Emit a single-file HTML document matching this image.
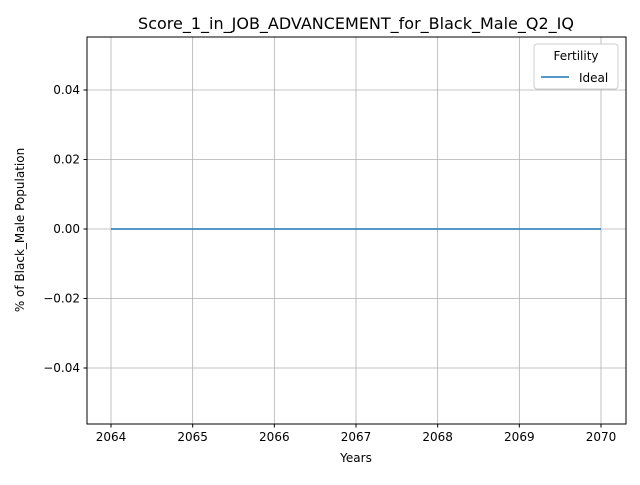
<!DOCTYPE html>
<html><head><meta charset="utf-8"><style>
body{margin:0;background:#fff;}
svg text{font-family:"DejaVu Sans","Liberation Sans",sans-serif;fill:#000;}
</style></head><body>
<svg id="chart" width="640" height="480" xmlns="http://www.w3.org/2000/svg">
<rect width="640" height="480" fill="#fff"/>
<text x="356" y="29" font-size="16" text-anchor="middle">Score_1_in_JOB_ADVANCEMENT_for_Black_Male_Q2_IQ</text>
<g id="grid"></g>
<g id="plot"></g>
<rect x="87" y="37" width="539" height="387" fill="none" stroke="#000" stroke-width="1"/>
<g id="ticks"></g>
<text x="356" y="462" font-size="12" text-anchor="middle">Years</text>
<text transform="translate(24,230) rotate(-90)" font-size="12" text-anchor="middle">% of Black_Male Population</text>
<g>
<rect x="534" y="44" width="84" height="45" rx="3" fill="#fff" stroke="#ccc"/>
<text x="576" y="60" font-size="12" text-anchor="middle">Fertility</text>
<line x1="541" y1="77" x2="569" y2="77" stroke="#1f77b4" stroke-width="1.5"/>
<text x="579" y="82" font-size="12">Ideal</text>
</g>
</svg>
<script>
const years=[2064,2065,2066,2067,2068,2069,2070];
const idealValues=[0,0,0,0,0,0,0];
const yTicks=[-0.04,-0.02,0,0.02,0.04];
const yTickLabels=["\u22120.04","\u22120.02","0.00","0.02","0.04"];
const NS="http://www.w3.org/2000/svg";
function xs(v){return 111+(v-2064)*(601-111)/6;}
function ys(v){return 229-v*(229-90)/0.04;}
const grid=document.getElementById('grid'),ticks=document.getElementById('ticks'),plot=document.getElementById('plot');
function mk(tag,attrs,parent){const e=document.createElementNS(NS,tag);for(const k in attrs)e.setAttribute(k,attrs[k]);parent.appendChild(e);return e;}
years.forEach(y=>{
  const x=xs(y);
  const g=mk('line',{x1:x,y1:37,x2:x,y2:424,stroke:'#b0b0b0','stroke-width':0.8},grid);
  
  
  const t=mk('line',{x1:x,y1:424,x2:x,y2:427.5,stroke:'#000'},ticks);
  
  
  const l=mk('text',{x:x,y:441,'font-size':12,'text-anchor':'middle'},ticks);
  l.textContent=y;
  
  
});
yTicks.forEach((v,i)=>{
  const y=ys(v);
  const g=mk('line',{x1:87,y1:y,x2:626,y2:y,stroke:'#b0b0b0','stroke-width':0.8},grid);
  
  
  const t=mk('line',{x1:83.5,y1:y,x2:87,y2:y,stroke:'#000'},ticks);
  
  
  const l=mk('text',{x:80,y:y+4,'font-size':12,'text-anchor':'end'},ticks);
  l.textContent=yTickLabels[i];
  
  
});
const pts=years.map((y,i)=>xs(y)+','+ys(idealValues[i])).join(' ');
const line=mk('polyline',{points:pts,fill:'none',stroke:'#1f77b4','stroke-width':1.5},plot);


</script>
</body></html>
